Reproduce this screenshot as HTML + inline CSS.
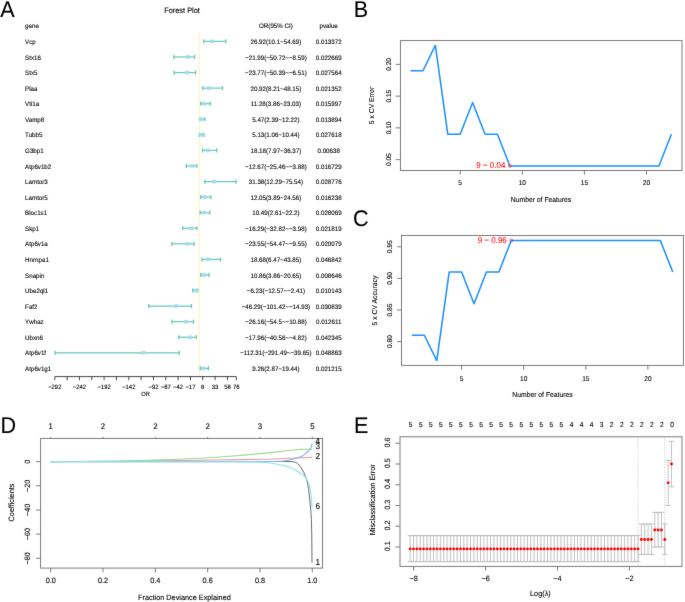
<!DOCTYPE html>
<html><head><meta charset="utf-8"><title>Figure</title>
<style>
html,body{margin:0;padding:0;background:#fff;}
body{width:685px;height:602px;overflow:hidden;}
svg{display:block;will-change:transform;}
text{font-family:"Liberation Sans", sans-serif;text-rendering:geometricPrecision;stroke:currentColor;stroke-width:0.1px;}
</style></head><body>
<svg width="685" height="602" viewBox="0 0 685 602">
<defs><filter id="bl" x="0" y="0" width="685" height="602" filterUnits="userSpaceOnUse" color-interpolation-filters="sRGB"><feConvolveMatrix order="3" kernelMatrix="0.00717 0.08466 0.00717 0.08466 1.00000 0.08466 0.00717 0.08466 0.00717" edgeMode="duplicate"/></filter></defs>
<g filter="url(#bl)">
<rect width="685" height="602" fill="#fff"/>
<text x="0.20" y="16.70" font-size="22.737" text-anchor="start" fill="#000" color="#000" transform="translate(0.20 16.70) scale(0.95 1) translate(-0.20 -16.70)">A</text>
<text x="353.70" y="16.90" font-size="22.737" text-anchor="start" fill="#000" color="#000" transform="translate(353.70 16.90) scale(0.95 1) translate(-353.70 -16.90)">B</text>
<text x="353.00" y="225.50" font-size="22.737" text-anchor="start" fill="#000" color="#000" transform="translate(353.00 225.50) scale(0.95 1) translate(-353.00 -225.50)">C</text>
<text x="0.40" y="433.30" font-size="22.737" text-anchor="start" fill="#000" color="#000" transform="translate(0.40 433.30) scale(0.95 1) translate(-0.40 -433.30)">D</text>
<text x="354.00" y="432.80" font-size="22.737" text-anchor="start" fill="#000" color="#000" transform="translate(354.00 432.80) scale(0.95 1) translate(-354.00 -432.80)">E</text>
<text x="164.20" y="12.80" font-size="7.789" text-anchor="start" fill="#000" color="#000" transform="translate(164.20 12.80) scale(0.95 1) translate(-164.20 -12.80)">Forest Plot</text>
<text x="25.10" y="28.23" font-size="6.526" text-anchor="start" fill="#000" color="#000" transform="translate(25.10 28.23) scale(0.95 1) translate(-25.10 -28.23)">gene</text>
<text x="275.90" y="28.03" font-size="6.526" text-anchor="middle" fill="#000" color="#000" transform="translate(275.90 28.03) scale(0.95 1) translate(-275.90 -28.03)">OR(95% CI)</text>
<text x="328.70" y="28.03" font-size="6.526" text-anchor="middle" fill="#000" color="#000" transform="translate(328.70 28.03) scale(0.95 1) translate(-328.70 -28.03)">pvalue</text>
<line x1="199.45" y1="33.30" x2="199.45" y2="376.60" stroke="#FFF4BA" stroke-width="1.2"/>
<text x="25.10" y="44.00" font-size="6.526" text-anchor="start" fill="#000" color="#000" transform="translate(25.10 44.00) scale(0.95 1) translate(-25.10 -44.00)">Vcp</text>
<text x="275.90" y="44.00" font-size="6.526" text-anchor="middle" fill="#000" color="#000" transform="translate(275.90 44.00) scale(0.95 1) translate(-275.90 -44.00)">26.92(10.1~54.69)</text>
<text x="328.70" y="44.00" font-size="6.526" text-anchor="middle" fill="#000" color="#000" transform="translate(328.70 44.00) scale(0.95 1) translate(-328.70 -44.00)">0.013372</text>
<line x1="203.80" y1="41.40" x2="225.79" y2="41.40" stroke="#69C7BA" stroke-width="1.2"/>
<line x1="203.80" y1="39.30" x2="203.80" y2="43.50" stroke="#69C7BA" stroke-width="1.3"/>
<line x1="225.79" y1="39.30" x2="225.79" y2="43.50" stroke="#69C7BA" stroke-width="1.3"/>
<rect x="210.09" y="39.60" width="4" height="3.6" fill="#A6DBF2"/>
<text x="25.10" y="59.57" font-size="6.526" text-anchor="start" fill="#000" color="#000" transform="translate(25.10 59.57) scale(0.95 1) translate(-25.10 -59.57)">Stx16</text>
<text x="275.90" y="59.57" font-size="6.526" text-anchor="middle" fill="#000" color="#000" transform="translate(275.90 59.57) scale(0.95 1) translate(-275.90 -59.57)">−21.99(−50.72~−8.59)</text>
<text x="328.70" y="59.57" font-size="6.526" text-anchor="middle" fill="#000" color="#000" transform="translate(328.70 59.57) scale(0.95 1) translate(-328.70 -59.57)">0.022669</text>
<line x1="173.80" y1="56.97" x2="194.58" y2="56.97" stroke="#69C7BA" stroke-width="1.2"/>
<line x1="173.80" y1="54.87" x2="173.80" y2="59.07" stroke="#69C7BA" stroke-width="1.3"/>
<line x1="194.58" y1="54.87" x2="194.58" y2="59.07" stroke="#69C7BA" stroke-width="1.3"/>
<rect x="185.97" y="55.17" width="4" height="3.6" fill="#A6DBF2"/>
<text x="25.10" y="75.14" font-size="6.526" text-anchor="start" fill="#000" color="#000" transform="translate(25.10 75.14) scale(0.95 1) translate(-25.10 -75.14)">Stx5</text>
<text x="275.90" y="75.14" font-size="6.526" text-anchor="middle" fill="#000" color="#000" transform="translate(275.90 75.14) scale(0.95 1) translate(-275.90 -75.14)">−23.77(−50.39~−6.51)</text>
<text x="328.70" y="75.14" font-size="6.526" text-anchor="middle" fill="#000" color="#000" transform="translate(328.70 75.14) scale(0.95 1) translate(-328.70 -75.14)">0.027564</text>
<line x1="173.96" y1="72.54" x2="195.61" y2="72.54" stroke="#69C7BA" stroke-width="1.2"/>
<line x1="173.96" y1="70.44" x2="173.96" y2="74.64" stroke="#69C7BA" stroke-width="1.3"/>
<line x1="195.61" y1="70.44" x2="195.61" y2="74.64" stroke="#69C7BA" stroke-width="1.3"/>
<rect x="185.09" y="70.74" width="4" height="3.6" fill="#A6DBF2"/>
<text x="25.10" y="90.71" font-size="6.526" text-anchor="start" fill="#000" color="#000" transform="translate(25.10 90.71) scale(0.95 1) translate(-25.10 -90.71)">Plaa</text>
<text x="275.90" y="90.71" font-size="6.526" text-anchor="middle" fill="#000" color="#000" transform="translate(275.90 90.71) scale(0.95 1) translate(-275.90 -90.71)">20.92(8.21~48.15)</text>
<text x="328.70" y="90.71" font-size="6.526" text-anchor="middle" fill="#000" color="#000" transform="translate(328.70 90.71) scale(0.95 1) translate(-328.70 -90.71)">0.021352</text>
<line x1="202.87" y1="88.11" x2="222.56" y2="88.11" stroke="#69C7BA" stroke-width="1.2"/>
<line x1="202.87" y1="86.01" x2="202.87" y2="90.21" stroke="#69C7BA" stroke-width="1.3"/>
<line x1="222.56" y1="86.01" x2="222.56" y2="90.21" stroke="#69C7BA" stroke-width="1.3"/>
<rect x="207.13" y="86.31" width="4" height="3.6" fill="#A6DBF2"/>
<text x="25.10" y="106.28" font-size="6.526" text-anchor="start" fill="#000" color="#000" transform="translate(25.10 106.28) scale(0.95 1) translate(-25.10 -106.28)">Vti1a</text>
<text x="275.90" y="106.28" font-size="6.526" text-anchor="middle" fill="#000" color="#000" transform="translate(275.90 106.28) scale(0.95 1) translate(-275.90 -106.28)">11.28(3.86~23.03)</text>
<text x="328.70" y="106.28" font-size="6.526" text-anchor="middle" fill="#000" color="#000" transform="translate(328.70 106.28) scale(0.95 1) translate(-328.70 -106.28)">0.015997</text>
<line x1="200.72" y1="103.68" x2="210.17" y2="103.68" stroke="#69C7BA" stroke-width="1.2"/>
<line x1="200.72" y1="101.58" x2="200.72" y2="105.78" stroke="#69C7BA" stroke-width="1.3"/>
<line x1="210.17" y1="101.58" x2="210.17" y2="105.78" stroke="#69C7BA" stroke-width="1.3"/>
<rect x="202.38" y="101.88" width="4" height="3.6" fill="#A6DBF2"/>
<text x="25.10" y="121.85" font-size="6.526" text-anchor="start" fill="#000" color="#000" transform="translate(25.10 121.85) scale(0.95 1) translate(-25.10 -121.85)">Vamp8</text>
<text x="275.90" y="121.85" font-size="6.526" text-anchor="middle" fill="#000" color="#000" transform="translate(275.90 121.85) scale(0.95 1) translate(-275.90 -121.85)">5.47(2.39~12.22)</text>
<text x="328.70" y="121.85" font-size="6.526" text-anchor="middle" fill="#000" color="#000" transform="translate(328.70 121.85) scale(0.95 1) translate(-328.70 -121.85)">0.013894</text>
<line x1="200.00" y1="119.25" x2="204.84" y2="119.25" stroke="#69C7BA" stroke-width="1.2"/>
<line x1="200.00" y1="117.15" x2="200.00" y2="121.35" stroke="#69C7BA" stroke-width="1.3"/>
<line x1="204.84" y1="117.15" x2="204.84" y2="121.35" stroke="#69C7BA" stroke-width="1.3"/>
<rect x="199.51" y="117.45" width="4" height="3.6" fill="#A6DBF2"/>
<text x="25.10" y="137.42" font-size="6.526" text-anchor="start" fill="#000" color="#000" transform="translate(25.10 137.42) scale(0.95 1) translate(-25.10 -137.42)">Tubb5</text>
<text x="275.90" y="137.42" font-size="6.526" text-anchor="middle" fill="#000" color="#000" transform="translate(275.90 137.42) scale(0.95 1) translate(-275.90 -137.42)">5.13(1.06~10.44)</text>
<text x="328.70" y="137.42" font-size="6.526" text-anchor="middle" fill="#000" color="#000" transform="translate(328.70 137.42) scale(0.95 1) translate(-328.70 -137.42)">0.027618</text>
<line x1="199.34" y1="134.82" x2="203.97" y2="134.82" stroke="#69C7BA" stroke-width="1.2"/>
<line x1="199.34" y1="132.72" x2="199.34" y2="136.92" stroke="#69C7BA" stroke-width="1.3"/>
<line x1="203.97" y1="132.72" x2="203.97" y2="136.92" stroke="#69C7BA" stroke-width="1.3"/>
<rect x="199.35" y="133.02" width="4" height="3.6" fill="#A6DBF2"/>
<text x="25.10" y="152.99" font-size="6.526" text-anchor="start" fill="#000" color="#000" transform="translate(25.10 152.99) scale(0.95 1) translate(-25.10 -152.99)">G3bp1</text>
<text x="275.90" y="152.99" font-size="6.526" text-anchor="middle" fill="#000" color="#000" transform="translate(275.90 152.99) scale(0.95 1) translate(-275.90 -152.99)">18.18(7.97~36.37)</text>
<text x="328.70" y="152.99" font-size="6.526" text-anchor="middle" fill="#000" color="#000" transform="translate(328.70 152.99) scale(0.95 1) translate(-328.70 -152.99)">0.00638</text>
<line x1="202.75" y1="150.39" x2="216.75" y2="150.39" stroke="#69C7BA" stroke-width="1.2"/>
<line x1="202.75" y1="148.29" x2="202.75" y2="152.49" stroke="#69C7BA" stroke-width="1.3"/>
<line x1="216.75" y1="148.29" x2="216.75" y2="152.49" stroke="#69C7BA" stroke-width="1.3"/>
<rect x="205.78" y="148.59" width="4" height="3.6" fill="#A6DBF2"/>
<text x="25.10" y="168.56" font-size="6.526" text-anchor="start" fill="#000" color="#000" transform="translate(25.10 168.56) scale(0.95 1) translate(-25.10 -168.56)">Atp6v1b2</text>
<text x="275.90" y="168.56" font-size="6.526" text-anchor="middle" fill="#000" color="#000" transform="translate(275.90 168.56) scale(0.95 1) translate(-275.90 -168.56)">−12.67(−25.46~−3.88)</text>
<text x="328.70" y="168.56" font-size="6.526" text-anchor="middle" fill="#000" color="#000" transform="translate(328.70 168.56) scale(0.95 1) translate(-328.70 -168.56)">0.016729</text>
<line x1="186.26" y1="165.96" x2="196.90" y2="165.96" stroke="#69C7BA" stroke-width="1.2"/>
<line x1="186.26" y1="163.86" x2="186.26" y2="168.06" stroke="#69C7BA" stroke-width="1.3"/>
<line x1="196.90" y1="163.86" x2="196.90" y2="168.06" stroke="#69C7BA" stroke-width="1.3"/>
<rect x="190.57" y="164.16" width="4" height="3.6" fill="#A6DBF2"/>
<text x="25.10" y="184.13" font-size="6.526" text-anchor="start" fill="#000" color="#000" transform="translate(25.10 184.13) scale(0.95 1) translate(-25.10 -184.13)">Lamtor3</text>
<text x="275.90" y="184.13" font-size="6.526" text-anchor="middle" fill="#000" color="#000" transform="translate(275.90 184.13) scale(0.95 1) translate(-275.90 -184.13)">31.38(12.29~75.54)</text>
<text x="328.70" y="184.13" font-size="6.526" text-anchor="middle" fill="#000" color="#000" transform="translate(328.70 184.13) scale(0.95 1) translate(-328.70 -184.13)">0.028776</text>
<line x1="204.88" y1="181.53" x2="236.07" y2="181.53" stroke="#69C7BA" stroke-width="1.2"/>
<line x1="204.88" y1="179.43" x2="204.88" y2="183.63" stroke="#69C7BA" stroke-width="1.3"/>
<line x1="236.07" y1="179.43" x2="236.07" y2="183.63" stroke="#69C7BA" stroke-width="1.3"/>
<rect x="212.29" y="179.73" width="4" height="3.6" fill="#A6DBF2"/>
<text x="25.10" y="199.70" font-size="6.526" text-anchor="start" fill="#000" color="#000" transform="translate(25.10 199.70) scale(0.95 1) translate(-25.10 -199.70)">Lamtor5</text>
<text x="275.90" y="199.70" font-size="6.526" text-anchor="middle" fill="#000" color="#000" transform="translate(275.90 199.70) scale(0.95 1) translate(-275.90 -199.70)">12.05(3.89~24.56)</text>
<text x="328.70" y="199.70" font-size="6.526" text-anchor="middle" fill="#000" color="#000" transform="translate(328.70 199.70) scale(0.95 1) translate(-328.70 -199.70)">0.016238</text>
<line x1="200.73" y1="197.10" x2="210.93" y2="197.10" stroke="#69C7BA" stroke-width="1.2"/>
<line x1="200.73" y1="195.00" x2="200.73" y2="199.20" stroke="#69C7BA" stroke-width="1.3"/>
<line x1="210.93" y1="195.00" x2="210.93" y2="199.20" stroke="#69C7BA" stroke-width="1.3"/>
<rect x="202.76" y="195.30" width="4" height="3.6" fill="#A6DBF2"/>
<text x="25.10" y="215.27" font-size="6.526" text-anchor="start" fill="#000" color="#000" transform="translate(25.10 215.27) scale(0.95 1) translate(-25.10 -215.27)">Bloc1s1</text>
<text x="275.90" y="215.27" font-size="6.526" text-anchor="middle" fill="#000" color="#000" transform="translate(275.90 215.27) scale(0.95 1) translate(-275.90 -215.27)">10.49(2.61~22.2)</text>
<text x="328.70" y="215.27" font-size="6.526" text-anchor="middle" fill="#000" color="#000" transform="translate(328.70 215.27) scale(0.95 1) translate(-328.70 -215.27)">0.028069</text>
<line x1="200.10" y1="212.67" x2="209.77" y2="212.67" stroke="#69C7BA" stroke-width="1.2"/>
<line x1="200.10" y1="210.57" x2="200.10" y2="214.77" stroke="#69C7BA" stroke-width="1.3"/>
<line x1="209.77" y1="210.57" x2="209.77" y2="214.77" stroke="#69C7BA" stroke-width="1.3"/>
<rect x="201.99" y="210.87" width="4" height="3.6" fill="#A6DBF2"/>
<text x="25.10" y="230.84" font-size="6.526" text-anchor="start" fill="#000" color="#000" transform="translate(25.10 230.84) scale(0.95 1) translate(-25.10 -230.84)">Skp1</text>
<text x="275.90" y="230.84" font-size="6.526" text-anchor="middle" fill="#000" color="#000" transform="translate(275.90 230.84) scale(0.95 1) translate(-275.90 -230.84)">−16.29(−32.82~−3.98)</text>
<text x="328.70" y="230.84" font-size="6.526" text-anchor="middle" fill="#000" color="#000" transform="translate(328.70 230.84) scale(0.95 1) translate(-328.70 -230.84)">0.021819</text>
<line x1="182.63" y1="228.24" x2="196.85" y2="228.24" stroke="#69C7BA" stroke-width="1.2"/>
<line x1="182.63" y1="226.14" x2="182.63" y2="230.34" stroke="#69C7BA" stroke-width="1.3"/>
<line x1="196.85" y1="226.14" x2="196.85" y2="230.34" stroke="#69C7BA" stroke-width="1.3"/>
<rect x="188.78" y="226.44" width="4" height="3.6" fill="#A6DBF2"/>
<text x="25.10" y="246.41" font-size="6.526" text-anchor="start" fill="#000" color="#000" transform="translate(25.10 246.41) scale(0.95 1) translate(-25.10 -246.41)">Atp6v1a</text>
<text x="275.90" y="246.41" font-size="6.526" text-anchor="middle" fill="#000" color="#000" transform="translate(275.90 246.41) scale(0.95 1) translate(-275.90 -246.41)">−23.55(−54.47~−9.55)</text>
<text x="328.70" y="246.41" font-size="6.526" text-anchor="middle" fill="#000" color="#000" transform="translate(328.70 246.41) scale(0.95 1) translate(-328.70 -246.41)">0.020079</text>
<line x1="171.95" y1="243.81" x2="194.11" y2="243.81" stroke="#69C7BA" stroke-width="1.2"/>
<line x1="171.95" y1="241.71" x2="171.95" y2="245.91" stroke="#69C7BA" stroke-width="1.3"/>
<line x1="194.11" y1="241.71" x2="194.11" y2="245.91" stroke="#69C7BA" stroke-width="1.3"/>
<rect x="185.20" y="242.01" width="4" height="3.6" fill="#A6DBF2"/>
<text x="25.10" y="261.98" font-size="6.526" text-anchor="start" fill="#000" color="#000" transform="translate(25.10 261.98) scale(0.95 1) translate(-25.10 -261.98)">Hnrnpa1</text>
<text x="275.90" y="261.98" font-size="6.526" text-anchor="middle" fill="#000" color="#000" transform="translate(275.90 261.98) scale(0.95 1) translate(-275.90 -261.98)">18.68(6.47~43.85)</text>
<text x="328.70" y="261.98" font-size="6.526" text-anchor="middle" fill="#000" color="#000" transform="translate(328.70 261.98) scale(0.95 1) translate(-328.70 -261.98)">0.046842</text>
<line x1="202.01" y1="259.38" x2="220.44" y2="259.38" stroke="#69C7BA" stroke-width="1.2"/>
<line x1="202.01" y1="257.28" x2="202.01" y2="261.48" stroke="#69C7BA" stroke-width="1.3"/>
<line x1="220.44" y1="257.28" x2="220.44" y2="261.48" stroke="#69C7BA" stroke-width="1.3"/>
<rect x="206.03" y="257.58" width="4" height="3.6" fill="#A6DBF2"/>
<text x="25.10" y="277.55" font-size="6.526" text-anchor="start" fill="#000" color="#000" transform="translate(25.10 277.55) scale(0.95 1) translate(-25.10 -277.55)">Snapin</text>
<text x="275.90" y="277.55" font-size="6.526" text-anchor="middle" fill="#000" color="#000" transform="translate(275.90 277.55) scale(0.95 1) translate(-275.90 -277.55)">10.86(3.86~20.65)</text>
<text x="328.70" y="277.55" font-size="6.526" text-anchor="middle" fill="#000" color="#000" transform="translate(328.70 277.55) scale(0.95 1) translate(-328.70 -277.55)">0.008646</text>
<line x1="200.72" y1="274.95" x2="209.00" y2="274.95" stroke="#69C7BA" stroke-width="1.2"/>
<line x1="200.72" y1="272.85" x2="200.72" y2="277.05" stroke="#69C7BA" stroke-width="1.3"/>
<line x1="209.00" y1="272.85" x2="209.00" y2="277.05" stroke="#69C7BA" stroke-width="1.3"/>
<rect x="202.17" y="273.15" width="4" height="3.6" fill="#A6DBF2"/>
<text x="25.10" y="293.12" font-size="6.526" text-anchor="start" fill="#000" color="#000" transform="translate(25.10 293.12) scale(0.95 1) translate(-25.10 -293.12)">Ube2ql1</text>
<text x="275.90" y="293.12" font-size="6.526" text-anchor="middle" fill="#000" color="#000" transform="translate(275.90 293.12) scale(0.95 1) translate(-275.90 -293.12)">−6.23(−12.57~−2.41)</text>
<text x="328.70" y="293.12" font-size="6.526" text-anchor="middle" fill="#000" color="#000" transform="translate(328.70 293.12) scale(0.95 1) translate(-328.70 -293.12)">0.010143</text>
<line x1="192.62" y1="290.52" x2="197.63" y2="290.52" stroke="#69C7BA" stroke-width="1.2"/>
<line x1="192.62" y1="288.42" x2="192.62" y2="292.62" stroke="#69C7BA" stroke-width="1.3"/>
<line x1="197.63" y1="288.42" x2="197.63" y2="292.62" stroke="#69C7BA" stroke-width="1.3"/>
<rect x="193.74" y="288.72" width="4" height="3.6" fill="#A6DBF2"/>
<text x="25.10" y="308.69" font-size="6.526" text-anchor="start" fill="#000" color="#000" transform="translate(25.10 308.69) scale(0.95 1) translate(-25.10 -308.69)">Faf2</text>
<text x="275.90" y="308.69" font-size="6.526" text-anchor="middle" fill="#000" color="#000" transform="translate(275.90 308.69) scale(0.95 1) translate(-275.90 -308.69)">−46.29(−101.42~−14.93)</text>
<text x="328.70" y="308.69" font-size="6.526" text-anchor="middle" fill="#000" color="#000" transform="translate(328.70 308.69) scale(0.95 1) translate(-328.70 -308.69)">0.030839</text>
<line x1="148.80" y1="306.09" x2="191.45" y2="306.09" stroke="#69C7BA" stroke-width="1.2"/>
<line x1="148.80" y1="303.99" x2="148.80" y2="308.19" stroke="#69C7BA" stroke-width="1.3"/>
<line x1="191.45" y1="303.99" x2="191.45" y2="308.19" stroke="#69C7BA" stroke-width="1.3"/>
<rect x="173.99" y="304.29" width="4" height="3.6" fill="#A6DBF2"/>
<text x="25.10" y="324.26" font-size="6.526" text-anchor="start" fill="#000" color="#000" transform="translate(25.10 324.26) scale(0.95 1) translate(-25.10 -324.26)">Ywhaz</text>
<text x="275.90" y="324.26" font-size="6.526" text-anchor="middle" fill="#000" color="#000" transform="translate(275.90 324.26) scale(0.95 1) translate(-275.90 -324.26)">−26.16(−54.5~−10.88)</text>
<text x="328.70" y="324.26" font-size="6.526" text-anchor="middle" fill="#000" color="#000" transform="translate(328.70 324.26) scale(0.95 1) translate(-328.70 -324.26)">0.012611</text>
<line x1="171.94" y1="321.66" x2="193.45" y2="321.66" stroke="#69C7BA" stroke-width="1.2"/>
<line x1="171.94" y1="319.56" x2="171.94" y2="323.76" stroke="#69C7BA" stroke-width="1.3"/>
<line x1="193.45" y1="319.56" x2="193.45" y2="323.76" stroke="#69C7BA" stroke-width="1.3"/>
<rect x="183.91" y="319.86" width="4" height="3.6" fill="#A6DBF2"/>
<text x="25.10" y="339.83" font-size="6.526" text-anchor="start" fill="#000" color="#000" transform="translate(25.10 339.83) scale(0.95 1) translate(-25.10 -339.83)">Ubxn6</text>
<text x="275.90" y="339.83" font-size="6.526" text-anchor="middle" fill="#000" color="#000" transform="translate(275.90 339.83) scale(0.95 1) translate(-275.90 -339.83)">−17.96(−40.56~−4.82)</text>
<text x="328.70" y="339.83" font-size="6.526" text-anchor="middle" fill="#000" color="#000" transform="translate(328.70 339.83) scale(0.95 1) translate(-328.70 -339.83)">0.042345</text>
<line x1="178.81" y1="337.23" x2="196.44" y2="337.23" stroke="#69C7BA" stroke-width="1.2"/>
<line x1="178.81" y1="335.13" x2="178.81" y2="339.33" stroke="#69C7BA" stroke-width="1.3"/>
<line x1="196.44" y1="335.13" x2="196.44" y2="339.33" stroke="#69C7BA" stroke-width="1.3"/>
<rect x="187.96" y="335.43" width="4" height="3.6" fill="#A6DBF2"/>
<text x="25.10" y="355.40" font-size="6.526" text-anchor="start" fill="#000" color="#000" transform="translate(25.10 355.40) scale(0.95 1) translate(-25.10 -355.40)">Atp6v1f</text>
<text x="275.90" y="355.40" font-size="6.526" text-anchor="middle" fill="#000" color="#000" transform="translate(275.90 355.40) scale(0.95 1) translate(-275.90 -355.40)">−112.31(−291.49~−39.65)</text>
<text x="328.70" y="355.40" font-size="6.526" text-anchor="middle" fill="#000" color="#000" transform="translate(328.70 355.40) scale(0.95 1) translate(-328.70 -355.40)">0.048863</text>
<line x1="55.05" y1="352.80" x2="179.26" y2="352.80" stroke="#69C7BA" stroke-width="1.2"/>
<line x1="55.05" y1="350.70" x2="55.05" y2="354.90" stroke="#69C7BA" stroke-width="1.3"/>
<line x1="179.26" y1="350.70" x2="179.26" y2="354.90" stroke="#69C7BA" stroke-width="1.3"/>
<rect x="141.42" y="351.00" width="4" height="3.6" fill="#A6DBF2"/>
<text x="25.10" y="370.97" font-size="6.526" text-anchor="start" fill="#000" color="#000" transform="translate(25.10 370.97) scale(0.95 1) translate(-25.10 -370.97)">Atp6v1g1</text>
<text x="275.90" y="370.97" font-size="6.526" text-anchor="middle" fill="#000" color="#000" transform="translate(275.90 370.97) scale(0.95 1) translate(-275.90 -370.97)">9.26(2.87~19.44)</text>
<text x="328.70" y="370.97" font-size="6.526" text-anchor="middle" fill="#000" color="#000" transform="translate(328.70 370.97) scale(0.95 1) translate(-328.70 -370.97)">0.021215</text>
<line x1="200.23" y1="368.37" x2="208.40" y2="368.37" stroke="#69C7BA" stroke-width="1.2"/>
<line x1="200.23" y1="366.27" x2="200.23" y2="370.47" stroke="#69C7BA" stroke-width="1.3"/>
<line x1="208.40" y1="366.27" x2="208.40" y2="370.47" stroke="#69C7BA" stroke-width="1.3"/>
<rect x="201.38" y="366.57" width="4" height="3.6" fill="#A6DBF2"/>
<line x1="54.80" y1="376.60" x2="236.30" y2="376.60" stroke="#333" stroke-width="0.9"/>
<line x1="54.80" y1="376.60" x2="54.80" y2="380.20" stroke="#333" stroke-width="0.9"/>
<text x="54.80" y="388.80" font-size="6.211" text-anchor="middle" fill="#000" color="#000" transform="translate(54.80 388.80) scale(0.95 1) translate(-54.80 -388.80)">−292</text>
<line x1="67.13" y1="376.60" x2="67.13" y2="380.20" stroke="#333" stroke-width="0.9"/>
<line x1="79.46" y1="376.60" x2="79.46" y2="380.20" stroke="#333" stroke-width="0.9"/>
<text x="79.46" y="388.80" font-size="6.211" text-anchor="middle" fill="#000" color="#000" transform="translate(79.46 388.80) scale(0.95 1) translate(-79.46 -388.80)">−242</text>
<line x1="91.79" y1="376.60" x2="91.79" y2="380.20" stroke="#333" stroke-width="0.9"/>
<line x1="104.12" y1="376.60" x2="104.12" y2="380.20" stroke="#333" stroke-width="0.9"/>
<text x="104.12" y="388.80" font-size="6.211" text-anchor="middle" fill="#000" color="#000" transform="translate(104.12 388.80) scale(0.95 1) translate(-104.12 -388.80)">−192</text>
<line x1="116.45" y1="376.60" x2="116.45" y2="380.20" stroke="#333" stroke-width="0.9"/>
<line x1="128.78" y1="376.60" x2="128.78" y2="380.20" stroke="#333" stroke-width="0.9"/>
<text x="128.78" y="388.80" font-size="6.211" text-anchor="middle" fill="#000" color="#000" transform="translate(128.78 388.80) scale(0.95 1) translate(-128.78 -388.80)">−142</text>
<line x1="141.11" y1="376.60" x2="141.11" y2="380.20" stroke="#333" stroke-width="0.9"/>
<line x1="153.44" y1="376.60" x2="153.44" y2="380.20" stroke="#333" stroke-width="0.9"/>
<text x="153.44" y="388.80" font-size="6.211" text-anchor="middle" fill="#000" color="#000" transform="translate(153.44 388.80) scale(0.95 1) translate(-153.44 -388.80)">−92</text>
<line x1="165.77" y1="376.60" x2="165.77" y2="380.20" stroke="#333" stroke-width="0.9"/>
<text x="165.77" y="388.80" font-size="6.211" text-anchor="middle" fill="#000" color="#000" transform="translate(165.77 388.80) scale(0.95 1) translate(-165.77 -388.80)">−67</text>
<line x1="178.10" y1="376.60" x2="178.10" y2="380.20" stroke="#333" stroke-width="0.9"/>
<text x="178.10" y="388.80" font-size="6.211" text-anchor="middle" fill="#000" color="#000" transform="translate(178.10 388.80) scale(0.95 1) translate(-178.10 -388.80)">−42</text>
<line x1="190.43" y1="376.60" x2="190.43" y2="380.20" stroke="#333" stroke-width="0.9"/>
<text x="190.43" y="388.80" font-size="6.211" text-anchor="middle" fill="#000" color="#000" transform="translate(190.43 388.80) scale(0.95 1) translate(-190.43 -388.80)">−17</text>
<line x1="202.76" y1="376.60" x2="202.76" y2="380.20" stroke="#333" stroke-width="0.9"/>
<text x="202.76" y="388.80" font-size="6.211" text-anchor="middle" fill="#000" color="#000" transform="translate(202.76 388.80) scale(0.95 1) translate(-202.76 -388.80)">8</text>
<line x1="215.09" y1="376.60" x2="215.09" y2="380.20" stroke="#333" stroke-width="0.9"/>
<text x="215.09" y="388.80" font-size="6.211" text-anchor="middle" fill="#000" color="#000" transform="translate(215.09 388.80) scale(0.95 1) translate(-215.09 -388.80)">33</text>
<line x1="227.42" y1="376.60" x2="227.42" y2="380.20" stroke="#333" stroke-width="0.9"/>
<text x="227.42" y="388.80" font-size="6.211" text-anchor="middle" fill="#000" color="#000" transform="translate(227.42 388.80) scale(0.95 1) translate(-227.42 -388.80)">58</text>
<line x1="236.30" y1="376.60" x2="236.30" y2="380.20" stroke="#333" stroke-width="0.9"/>
<text x="236.30" y="388.80" font-size="6.211" text-anchor="middle" fill="#000" color="#000" transform="translate(236.30 388.80) scale(0.95 1) translate(-236.30 -388.80)">76</text>
<text x="145.60" y="395.50" font-size="6.0" text-anchor="middle" fill="#000" color="#000" transform="translate(145.60 395.50) scale(0.95 1) translate(-145.60 -395.50)">OR</text>
<rect x="400.40" y="40.60" width="281.60" height="129.90" fill="none" stroke="#6E6E6E" stroke-width="0.9"/>
<polyline points="410.52,70.75 422.94,70.75 435.36,45.36 447.78,134.22 460.20,134.22 472.62,102.48 485.04,134.22 497.46,134.22 509.88,165.95 522.30,165.95 534.72,165.95 547.14,165.95 559.56,165.95 571.98,165.95 584.40,165.95 596.82,165.95 609.24,165.95 621.66,165.95 634.08,165.95 646.50,165.95 658.92,165.95 671.34,134.22" fill="none" stroke="#1E90FF" stroke-width="1.55" stroke-linejoin="round"/>
<line x1="395.60" y1="159.61" x2="400.40" y2="159.61" stroke="#6E6E6E" stroke-width="0.9"/>
<text x="390.60" y="159.61" font-size="6.947" text-anchor="middle" fill="#000" color="#000" transform="rotate(-90 390.60 159.61) translate(390.60 159.61) scale(0.95 1) translate(-390.60 -159.61)">0.05</text>
<line x1="395.60" y1="127.87" x2="400.40" y2="127.87" stroke="#6E6E6E" stroke-width="0.9"/>
<text x="390.60" y="127.87" font-size="6.947" text-anchor="middle" fill="#000" color="#000" transform="rotate(-90 390.60 127.87) translate(390.60 127.87) scale(0.95 1) translate(-390.60 -127.87)">0.10</text>
<line x1="395.60" y1="96.14" x2="400.40" y2="96.14" stroke="#6E6E6E" stroke-width="0.9"/>
<text x="390.60" y="96.14" font-size="6.947" text-anchor="middle" fill="#000" color="#000" transform="rotate(-90 390.60 96.14) translate(390.60 96.14) scale(0.95 1) translate(-390.60 -96.14)">0.15</text>
<line x1="395.60" y1="64.40" x2="400.40" y2="64.40" stroke="#6E6E6E" stroke-width="0.9"/>
<text x="390.60" y="64.40" font-size="6.947" text-anchor="middle" fill="#000" color="#000" transform="rotate(-90 390.60 64.40) translate(390.60 64.40) scale(0.95 1) translate(-390.60 -64.40)">0.20</text>
<line x1="460.20" y1="170.50" x2="460.20" y2="174.70" stroke="#6E6E6E" stroke-width="0.9"/>
<text x="460.20" y="185.00" font-size="6.947" text-anchor="middle" fill="#000" color="#000" transform="translate(460.20 185.00) scale(0.95 1) translate(-460.20 -185.00)">5</text>
<line x1="522.30" y1="170.50" x2="522.30" y2="174.70" stroke="#6E6E6E" stroke-width="0.9"/>
<text x="522.30" y="185.00" font-size="6.947" text-anchor="middle" fill="#000" color="#000" transform="translate(522.30 185.00) scale(0.95 1) translate(-522.30 -185.00)">10</text>
<line x1="584.40" y1="170.50" x2="584.40" y2="174.70" stroke="#6E6E6E" stroke-width="0.9"/>
<text x="584.40" y="185.00" font-size="6.947" text-anchor="middle" fill="#000" color="#000" transform="translate(584.40 185.00) scale(0.95 1) translate(-584.40 -185.00)">15</text>
<line x1="646.50" y1="170.50" x2="646.50" y2="174.70" stroke="#6E6E6E" stroke-width="0.9"/>
<text x="646.50" y="185.00" font-size="6.947" text-anchor="middle" fill="#000" color="#000" transform="translate(646.50 185.00) scale(0.95 1) translate(-646.50 -185.00)">20</text>
<text x="541.00" y="201.90" font-size="7.158" text-anchor="middle" fill="#000" color="#000" transform="translate(541.00 201.90) scale(0.95 1) translate(-541.00 -201.90)">Number of Features</text>
<text x="374.30" y="105.50" font-size="7.158" text-anchor="middle" fill="#000" color="#000" transform="rotate(-90 374.30 105.50) translate(374.30 105.50) scale(0.95 1) translate(-374.30 -105.50)">5 x CV Error</text>
<text x="505.40" y="167.70" font-size="8.421" text-anchor="end" fill="#FF1010" color="#FF1010" transform="translate(505.40 167.70) scale(0.95 1) translate(-505.40 -167.70)">9 − 0.04</text>
<circle cx="509.88" cy="165.95" r="1.5" fill="none" stroke="#FF1010" stroke-width="0.6"/>
<rect x="401.50" y="235.50" width="281.90" height="129.90" fill="none" stroke="#6E6E6E" stroke-width="0.9"/>
<polyline points="411.92,335.28 424.34,335.28 436.76,360.56 449.18,272.08 461.60,272.08 474.02,303.68 486.44,272.08 498.86,272.08 511.28,240.48 523.70,240.48 536.12,240.48 548.54,240.48 560.96,240.48 573.38,240.48 585.80,240.48 598.22,240.48 610.64,240.48 623.06,240.48 635.48,240.48 647.90,240.48 660.32,240.48 672.74,272.08" fill="none" stroke="#1E90FF" stroke-width="1.55" stroke-linejoin="round"/>
<line x1="397.10" y1="341.60" x2="401.50" y2="341.60" stroke="#6E6E6E" stroke-width="0.9"/>
<text x="392.20" y="341.60" font-size="6.947" text-anchor="middle" fill="#000" color="#000" transform="rotate(-90 392.20 341.60) translate(392.20 341.60) scale(0.95 1) translate(-392.20 -341.60)">0.80</text>
<line x1="397.10" y1="310.00" x2="401.50" y2="310.00" stroke="#6E6E6E" stroke-width="0.9"/>
<text x="392.20" y="310.00" font-size="6.947" text-anchor="middle" fill="#000" color="#000" transform="rotate(-90 392.20 310.00) translate(392.20 310.00) scale(0.95 1) translate(-392.20 -310.00)">0.85</text>
<line x1="397.10" y1="278.40" x2="401.50" y2="278.40" stroke="#6E6E6E" stroke-width="0.9"/>
<text x="392.20" y="278.40" font-size="6.947" text-anchor="middle" fill="#000" color="#000" transform="rotate(-90 392.20 278.40) translate(392.20 278.40) scale(0.95 1) translate(-392.20 -278.40)">0.90</text>
<line x1="397.10" y1="246.80" x2="401.50" y2="246.80" stroke="#6E6E6E" stroke-width="0.9"/>
<text x="392.20" y="246.80" font-size="6.947" text-anchor="middle" fill="#000" color="#000" transform="rotate(-90 392.20 246.80) translate(392.20 246.80) scale(0.95 1) translate(-392.20 -246.80)">0.95</text>
<line x1="461.60" y1="365.40" x2="461.60" y2="369.60" stroke="#6E6E6E" stroke-width="0.9"/>
<text x="461.60" y="380.60" font-size="6.947" text-anchor="middle" fill="#000" color="#000" transform="translate(461.60 380.60) scale(0.95 1) translate(-461.60 -380.60)">5</text>
<line x1="523.70" y1="365.40" x2="523.70" y2="369.60" stroke="#6E6E6E" stroke-width="0.9"/>
<text x="523.70" y="380.60" font-size="6.947" text-anchor="middle" fill="#000" color="#000" transform="translate(523.70 380.60) scale(0.95 1) translate(-523.70 -380.60)">10</text>
<line x1="585.80" y1="365.40" x2="585.80" y2="369.60" stroke="#6E6E6E" stroke-width="0.9"/>
<text x="585.80" y="380.60" font-size="6.947" text-anchor="middle" fill="#000" color="#000" transform="translate(585.80 380.60) scale(0.95 1) translate(-585.80 -380.60)">15</text>
<line x1="647.90" y1="365.40" x2="647.90" y2="369.60" stroke="#6E6E6E" stroke-width="0.9"/>
<text x="647.90" y="380.60" font-size="6.947" text-anchor="middle" fill="#000" color="#000" transform="translate(647.90 380.60) scale(0.95 1) translate(-647.90 -380.60)">20</text>
<text x="542.50" y="396.80" font-size="7.158" text-anchor="middle" fill="#000" color="#000" transform="translate(542.50 396.80) scale(0.95 1) translate(-542.50 -396.80)">Number of Features</text>
<text x="376.70" y="300.50" font-size="7.158" text-anchor="middle" fill="#000" color="#000" transform="rotate(-90 376.70 300.50) translate(376.70 300.50) scale(0.95 1) translate(-376.70 -300.50)">5 x CV Accuracy</text>
<text x="506.80" y="243.00" font-size="8.421" text-anchor="end" fill="#FF1010" color="#FF1010" transform="translate(506.80 243.00) scale(0.95 1) translate(-506.80 -243.00)">9 − 0.96</text>
<circle cx="511.28" cy="240.48" r="1.5" fill="none" stroke="#FF1010" stroke-width="0.6"/>
<rect x="40.60" y="438.40" width="282.00" height="129.70" fill="none" stroke="#6E6E6E" stroke-width="0.9"/>
<line x1="36.00" y1="461.70" x2="40.60" y2="461.70" stroke="#6E6E6E" stroke-width="0.9"/>
<text x="30.40" y="461.70" font-size="7.684" text-anchor="middle" fill="#000" color="#000" transform="rotate(-90 30.40 461.70) translate(30.40 461.70) scale(0.95 1) translate(-30.40 -461.70)">0</text>
<line x1="36.00" y1="485.85" x2="40.60" y2="485.85" stroke="#6E6E6E" stroke-width="0.9"/>
<text x="30.40" y="485.85" font-size="7.684" text-anchor="middle" fill="#000" color="#000" transform="rotate(-90 30.40 485.85) translate(30.40 485.85) scale(0.95 1) translate(-30.40 -485.85)">−20</text>
<line x1="36.00" y1="510.00" x2="40.60" y2="510.00" stroke="#6E6E6E" stroke-width="0.9"/>
<text x="30.40" y="510.00" font-size="7.684" text-anchor="middle" fill="#000" color="#000" transform="rotate(-90 30.40 510.00) translate(30.40 510.00) scale(0.95 1) translate(-30.40 -510.00)">−40</text>
<line x1="36.00" y1="534.15" x2="40.60" y2="534.15" stroke="#6E6E6E" stroke-width="0.9"/>
<text x="30.40" y="534.15" font-size="7.684" text-anchor="middle" fill="#000" color="#000" transform="rotate(-90 30.40 534.15) translate(30.40 534.15) scale(0.95 1) translate(-30.40 -534.15)">−60</text>
<line x1="36.00" y1="558.30" x2="40.60" y2="558.30" stroke="#6E6E6E" stroke-width="0.9"/>
<text x="30.40" y="558.30" font-size="7.684" text-anchor="middle" fill="#000" color="#000" transform="rotate(-90 30.40 558.30) translate(30.40 558.30) scale(0.95 1) translate(-30.40 -558.30)">−80</text>
<line x1="50.70" y1="568.10" x2="50.70" y2="572.30" stroke="#6E6E6E" stroke-width="0.9"/>
<text x="50.70" y="583.30" font-size="7.684" text-anchor="middle" fill="#000" color="#000" transform="translate(50.70 583.30) scale(0.95 1) translate(-50.70 -583.30)">0.0</text>
<line x1="50.70" y1="438.40" x2="50.70" y2="436.90" stroke="#6E6E6E" stroke-width="0.9"/>
<text x="50.70" y="428.80" font-size="8.211" text-anchor="middle" fill="#000" color="#000" transform="translate(50.70 428.80) scale(0.95 1) translate(-50.70 -428.80)">1</text>
<line x1="103.02" y1="568.10" x2="103.02" y2="572.30" stroke="#6E6E6E" stroke-width="0.9"/>
<text x="103.02" y="583.30" font-size="7.684" text-anchor="middle" fill="#000" color="#000" transform="translate(103.02 583.30) scale(0.95 1) translate(-103.02 -583.30)">0.2</text>
<line x1="103.02" y1="438.40" x2="103.02" y2="436.90" stroke="#6E6E6E" stroke-width="0.9"/>
<text x="103.02" y="428.80" font-size="8.211" text-anchor="middle" fill="#000" color="#000" transform="translate(103.02 428.80) scale(0.95 1) translate(-103.02 -428.80)">2</text>
<line x1="155.34" y1="568.10" x2="155.34" y2="572.30" stroke="#6E6E6E" stroke-width="0.9"/>
<text x="155.34" y="583.30" font-size="7.684" text-anchor="middle" fill="#000" color="#000" transform="translate(155.34 583.30) scale(0.95 1) translate(-155.34 -583.30)">0.4</text>
<line x1="155.34" y1="438.40" x2="155.34" y2="436.90" stroke="#6E6E6E" stroke-width="0.9"/>
<text x="155.34" y="428.80" font-size="8.211" text-anchor="middle" fill="#000" color="#000" transform="translate(155.34 428.80) scale(0.95 1) translate(-155.34 -428.80)">2</text>
<line x1="207.66" y1="568.10" x2="207.66" y2="572.30" stroke="#6E6E6E" stroke-width="0.9"/>
<text x="207.66" y="583.30" font-size="7.684" text-anchor="middle" fill="#000" color="#000" transform="translate(207.66 583.30) scale(0.95 1) translate(-207.66 -583.30)">0.6</text>
<line x1="207.66" y1="438.40" x2="207.66" y2="436.90" stroke="#6E6E6E" stroke-width="0.9"/>
<text x="207.66" y="428.80" font-size="8.211" text-anchor="middle" fill="#000" color="#000" transform="translate(207.66 428.80) scale(0.95 1) translate(-207.66 -428.80)">2</text>
<line x1="259.98" y1="568.10" x2="259.98" y2="572.30" stroke="#6E6E6E" stroke-width="0.9"/>
<text x="259.98" y="583.30" font-size="7.684" text-anchor="middle" fill="#000" color="#000" transform="translate(259.98 583.30) scale(0.95 1) translate(-259.98 -583.30)">0.8</text>
<line x1="259.98" y1="438.40" x2="259.98" y2="436.90" stroke="#6E6E6E" stroke-width="0.9"/>
<text x="259.98" y="428.80" font-size="8.211" text-anchor="middle" fill="#000" color="#000" transform="translate(259.98 428.80) scale(0.95 1) translate(-259.98 -428.80)">3</text>
<line x1="312.30" y1="568.10" x2="312.30" y2="572.30" stroke="#6E6E6E" stroke-width="0.9"/>
<text x="312.30" y="583.30" font-size="7.684" text-anchor="middle" fill="#000" color="#000" transform="translate(312.30 583.30) scale(0.95 1) translate(-312.30 -583.30)">1.0</text>
<line x1="312.30" y1="438.40" x2="312.30" y2="436.90" stroke="#6E6E6E" stroke-width="0.9"/>
<text x="312.30" y="428.80" font-size="8.211" text-anchor="middle" fill="#000" color="#000" transform="translate(312.30 428.80) scale(0.95 1) translate(-312.30 -428.80)">5</text>
<text x="184.40" y="599.80" font-size="7.684" text-anchor="middle" fill="#000" color="#000" transform="translate(184.40 599.80) scale(0.95 1) translate(-184.40 -599.80)">Fraction Deviance Explained</text>
<text x="14.30" y="502.60" font-size="7.684" text-anchor="middle" fill="#000" color="#000" transform="rotate(-90 14.30 502.60) translate(14.30 502.60) scale(0.95 1) translate(-14.30 -502.60)">Coefficients</text>
<path d="M50.70,461.60 C129.80,461.57 208.90,461.50 288.00,461.50 C289.33,461.50 290.68,461.46 292.00,461.60 C293.18,461.73 294.38,461.93 295.50,462.30 C296.22,462.53 296.92,462.92 297.50,463.40 C298.42,464.16 299.28,465.05 300.00,466.00 C301.04,467.38 301.99,468.87 302.80,470.40 C303.66,472.03 304.35,473.77 305.00,475.50 C305.85,477.74 306.68,479.99 307.30,482.30 C307.85,484.33 308.19,486.42 308.50,488.50 C308.93,491.42 309.18,494.36 309.50,497.30 C309.85,500.53 310.23,503.76 310.50,507.00 C310.86,511.23 311.23,515.46 311.40,519.70 C311.67,526.46 311.71,533.23 311.80,540.00 C311.91,547.60 311.93,555.20 312.00,562.80" fill="none" stroke="#5A5A5A" stroke-width="0.9" stroke-opacity="1" stroke-linejoin="round"/>
<path d="M50.70,461.60 C73.80,461.47 96.90,461.40 120.00,461.20 C146.67,460.97 173.33,460.66 200.00,460.30 C220.00,460.03 240.00,459.70 260.00,459.30 C266.67,459.17 273.33,458.94 280.00,458.70 C290.73,458.31 301.47,457.83 312.20,457.40" fill="none" stroke="#EE9AA8" stroke-width="1.1" stroke-opacity="1" stroke-linejoin="round"/>
<path d="M50.70,461.60 C73.80,461.40 96.90,461.36 120.00,461.00 C133.34,460.79 146.67,460.35 160.00,459.90 C173.34,459.45 186.68,459.00 200.00,458.30 C210.01,457.77 220.01,456.98 230.00,456.20 C240.01,455.42 250.00,454.52 260.00,453.60 C266.67,452.99 273.34,452.33 280.00,451.60 C284.87,451.06 289.72,450.29 294.60,449.80 C297.06,449.55 299.53,449.47 302.00,449.40 C305.40,449.30 308.80,449.33 312.20,449.30" fill="none" stroke="#9CDB8E" stroke-width="1.1" stroke-opacity="1" stroke-linejoin="round"/>
<path d="M50.70,461.60 C123.13,461.60 195.57,461.69 268.00,461.60 C271.83,461.59 275.67,461.50 279.50,461.30 C281.34,461.20 283.18,460.98 285.00,460.70 C287.08,460.38 289.15,459.98 291.20,459.50 C293.15,459.04 295.08,458.49 297.00,457.90 C298.68,457.39 300.46,457.01 302.00,456.20 C303.56,455.38 304.92,454.13 306.30,453.00 C307.25,452.23 308.15,451.38 309.00,450.50 C309.51,449.98 310.05,449.43 310.40,448.80 C310.88,447.93 311.19,446.95 311.50,446.00 C311.79,445.09 311.97,444.13 312.20,443.20" fill="none" stroke="#7DB8F0" stroke-width="1.1" stroke-opacity="1" stroke-linejoin="round"/>
<path d="M50.70,461.60 C100.47,461.67 150.23,461.73 200.00,461.80 C216.67,461.83 233.33,461.79 250.00,461.90 C254.00,461.93 258.01,461.95 262.00,462.20 C265.34,462.41 268.68,462.82 272.00,463.30 C274.68,463.69 277.34,464.27 280.00,464.80 C281.67,465.13 283.35,465.46 285.00,465.90 C286.69,466.36 288.36,466.89 290.00,467.50 C291.56,468.09 293.13,468.71 294.60,469.50 C295.80,470.15 296.87,471.03 298.00,471.80 C299.33,472.70 300.73,473.52 302.00,474.50 C303.33,475.52 304.76,476.52 305.80,477.80 C306.92,479.18 307.87,480.82 308.50,482.50 C309.37,484.82 309.84,487.34 310.30,489.80 C310.81,492.51 311.11,495.26 311.40,498.00 C311.74,501.23 311.93,504.47 312.20,507.70" fill="none" stroke="#8EE5EA" stroke-width="1.1" stroke-opacity="1" stroke-linejoin="round"/>
<text x="315.60" y="443.75" font-size="8.632" text-anchor="start" fill="#000" color="#000" transform="translate(315.60 443.75) scale(0.95 1) translate(-315.60 -443.75)">4</text>
<text x="315.60" y="449.05" font-size="8.632" text-anchor="start" fill="#000" color="#000" transform="translate(315.60 449.05) scale(0.95 1) translate(-315.60 -449.05)">3</text>
<text x="315.60" y="459.05" font-size="8.632" text-anchor="start" fill="#000" color="#000" transform="translate(315.60 459.05) scale(0.95 1) translate(-315.60 -459.05)">2</text>
<text x="315.60" y="509.15" font-size="8.632" text-anchor="start" fill="#000" color="#000" transform="translate(315.60 509.15) scale(0.95 1) translate(-315.60 -509.15)">6</text>
<text x="315.60" y="564.65" font-size="8.632" text-anchor="start" fill="#000" color="#000" transform="translate(315.60 564.65) scale(0.95 1) translate(-315.60 -564.65)">1</text>
<rect x="400.00" y="436.80" width="282.00" height="129.60" fill="none" stroke="#6E6E6E" stroke-width="0.9"/>
<line x1="395.40" y1="547.00" x2="400.00" y2="547.00" stroke="#6E6E6E" stroke-width="0.9"/>
<text x="390.40" y="546.30" font-size="7.684" text-anchor="middle" fill="#000" color="#000" transform="rotate(-90 390.40 546.30) translate(390.40 546.30) scale(0.95 1) translate(-390.40 -546.30)">0.1</text>
<line x1="395.40" y1="526.25" x2="400.00" y2="526.25" stroke="#6E6E6E" stroke-width="0.9"/>
<text x="390.40" y="525.55" font-size="7.684" text-anchor="middle" fill="#000" color="#000" transform="rotate(-90 390.40 525.55) translate(390.40 525.55) scale(0.95 1) translate(-390.40 -525.55)">0.2</text>
<line x1="395.40" y1="505.50" x2="400.00" y2="505.50" stroke="#6E6E6E" stroke-width="0.9"/>
<text x="390.40" y="504.80" font-size="7.684" text-anchor="middle" fill="#000" color="#000" transform="rotate(-90 390.40 504.80) translate(390.40 504.80) scale(0.95 1) translate(-390.40 -504.80)">0.3</text>
<line x1="395.40" y1="484.75" x2="400.00" y2="484.75" stroke="#6E6E6E" stroke-width="0.9"/>
<text x="390.40" y="484.05" font-size="7.684" text-anchor="middle" fill="#000" color="#000" transform="rotate(-90 390.40 484.05) translate(390.40 484.05) scale(0.95 1) translate(-390.40 -484.05)">0.4</text>
<line x1="395.40" y1="464.00" x2="400.00" y2="464.00" stroke="#6E6E6E" stroke-width="0.9"/>
<text x="390.40" y="463.30" font-size="7.684" text-anchor="middle" fill="#000" color="#000" transform="rotate(-90 390.40 463.30) translate(390.40 463.30) scale(0.95 1) translate(-390.40 -463.30)">0.5</text>
<line x1="395.40" y1="443.25" x2="400.00" y2="443.25" stroke="#6E6E6E" stroke-width="0.9"/>
<text x="390.40" y="442.55" font-size="7.684" text-anchor="middle" fill="#000" color="#000" transform="rotate(-90 390.40 442.55) translate(390.40 442.55) scale(0.95 1) translate(-390.40 -442.55)">0.6</text>
<line x1="413.70" y1="566.40" x2="413.70" y2="570.60" stroke="#6E6E6E" stroke-width="0.9"/>
<text x="413.70" y="580.80" font-size="7.684" text-anchor="middle" fill="#000" color="#000" transform="translate(413.70 580.80) scale(0.95 1) translate(-413.70 -580.80)">−8</text>
<line x1="485.60" y1="566.40" x2="485.60" y2="570.60" stroke="#6E6E6E" stroke-width="0.9"/>
<text x="485.60" y="580.80" font-size="7.684" text-anchor="middle" fill="#000" color="#000" transform="translate(485.60 580.80) scale(0.95 1) translate(-485.60 -580.80)">−6</text>
<line x1="557.50" y1="566.40" x2="557.50" y2="570.60" stroke="#6E6E6E" stroke-width="0.9"/>
<text x="557.50" y="580.80" font-size="7.684" text-anchor="middle" fill="#000" color="#000" transform="translate(557.50 580.80) scale(0.95 1) translate(-557.50 -580.80)">−4</text>
<line x1="629.40" y1="566.40" x2="629.40" y2="570.60" stroke="#6E6E6E" stroke-width="0.9"/>
<text x="629.40" y="580.80" font-size="7.684" text-anchor="middle" fill="#000" color="#000" transform="translate(629.40 580.80) scale(0.95 1) translate(-629.40 -580.80)">−2</text>
<text x="540.40" y="595.80" font-size="7.684" text-anchor="middle" fill="#000" color="#000" transform="translate(540.40 595.80) scale(0.95 1) translate(-540.40 -595.80)">Log(λ)</text>
<text x="374.70" y="499.80" font-size="7.684" text-anchor="middle" fill="#000" color="#000" transform="rotate(-90 374.70 499.80) translate(374.70 499.80) scale(0.95 1) translate(-374.70 -499.80)">Misclassification Error</text>
<line x1="410.20" y1="535.59" x2="410.20" y2="561.61" stroke="#B2B2B2" stroke-width="0.8"/>
<line x1="407.60" y1="535.59" x2="412.80" y2="535.59" stroke="#B2B2B2" stroke-width="0.8"/>
<line x1="407.60" y1="561.61" x2="412.80" y2="561.61" stroke="#B2B2B2" stroke-width="0.8"/>
<line x1="413.55" y1="535.59" x2="413.55" y2="561.61" stroke="#B2B2B2" stroke-width="0.8"/>
<line x1="410.95" y1="535.59" x2="416.15" y2="535.59" stroke="#B2B2B2" stroke-width="0.8"/>
<line x1="410.95" y1="561.61" x2="416.15" y2="561.61" stroke="#B2B2B2" stroke-width="0.8"/>
<line x1="416.90" y1="535.59" x2="416.90" y2="561.61" stroke="#B2B2B2" stroke-width="0.8"/>
<line x1="414.30" y1="535.59" x2="419.50" y2="535.59" stroke="#B2B2B2" stroke-width="0.8"/>
<line x1="414.30" y1="561.61" x2="419.50" y2="561.61" stroke="#B2B2B2" stroke-width="0.8"/>
<line x1="420.25" y1="535.59" x2="420.25" y2="561.61" stroke="#B2B2B2" stroke-width="0.8"/>
<line x1="417.65" y1="535.59" x2="422.85" y2="535.59" stroke="#B2B2B2" stroke-width="0.8"/>
<line x1="417.65" y1="561.61" x2="422.85" y2="561.61" stroke="#B2B2B2" stroke-width="0.8"/>
<line x1="423.60" y1="535.59" x2="423.60" y2="561.61" stroke="#B2B2B2" stroke-width="0.8"/>
<line x1="421.00" y1="535.59" x2="426.20" y2="535.59" stroke="#B2B2B2" stroke-width="0.8"/>
<line x1="421.00" y1="561.61" x2="426.20" y2="561.61" stroke="#B2B2B2" stroke-width="0.8"/>
<line x1="426.95" y1="535.59" x2="426.95" y2="561.61" stroke="#B2B2B2" stroke-width="0.8"/>
<line x1="424.35" y1="535.59" x2="429.55" y2="535.59" stroke="#B2B2B2" stroke-width="0.8"/>
<line x1="424.35" y1="561.61" x2="429.55" y2="561.61" stroke="#B2B2B2" stroke-width="0.8"/>
<line x1="430.30" y1="535.59" x2="430.30" y2="561.61" stroke="#B2B2B2" stroke-width="0.8"/>
<line x1="427.70" y1="535.59" x2="432.90" y2="535.59" stroke="#B2B2B2" stroke-width="0.8"/>
<line x1="427.70" y1="561.61" x2="432.90" y2="561.61" stroke="#B2B2B2" stroke-width="0.8"/>
<line x1="433.65" y1="535.59" x2="433.65" y2="561.61" stroke="#B2B2B2" stroke-width="0.8"/>
<line x1="431.05" y1="535.59" x2="436.25" y2="535.59" stroke="#B2B2B2" stroke-width="0.8"/>
<line x1="431.05" y1="561.61" x2="436.25" y2="561.61" stroke="#B2B2B2" stroke-width="0.8"/>
<line x1="437.00" y1="535.59" x2="437.00" y2="561.61" stroke="#B2B2B2" stroke-width="0.8"/>
<line x1="434.40" y1="535.59" x2="439.60" y2="535.59" stroke="#B2B2B2" stroke-width="0.8"/>
<line x1="434.40" y1="561.61" x2="439.60" y2="561.61" stroke="#B2B2B2" stroke-width="0.8"/>
<line x1="440.35" y1="535.59" x2="440.35" y2="561.61" stroke="#B2B2B2" stroke-width="0.8"/>
<line x1="437.75" y1="535.59" x2="442.95" y2="535.59" stroke="#B2B2B2" stroke-width="0.8"/>
<line x1="437.75" y1="561.61" x2="442.95" y2="561.61" stroke="#B2B2B2" stroke-width="0.8"/>
<line x1="443.70" y1="535.59" x2="443.70" y2="561.61" stroke="#B2B2B2" stroke-width="0.8"/>
<line x1="441.10" y1="535.59" x2="446.30" y2="535.59" stroke="#B2B2B2" stroke-width="0.8"/>
<line x1="441.10" y1="561.61" x2="446.30" y2="561.61" stroke="#B2B2B2" stroke-width="0.8"/>
<line x1="447.05" y1="535.59" x2="447.05" y2="561.61" stroke="#B2B2B2" stroke-width="0.8"/>
<line x1="444.45" y1="535.59" x2="449.65" y2="535.59" stroke="#B2B2B2" stroke-width="0.8"/>
<line x1="444.45" y1="561.61" x2="449.65" y2="561.61" stroke="#B2B2B2" stroke-width="0.8"/>
<line x1="450.40" y1="535.59" x2="450.40" y2="561.61" stroke="#B2B2B2" stroke-width="0.8"/>
<line x1="447.80" y1="535.59" x2="453.00" y2="535.59" stroke="#B2B2B2" stroke-width="0.8"/>
<line x1="447.80" y1="561.61" x2="453.00" y2="561.61" stroke="#B2B2B2" stroke-width="0.8"/>
<line x1="453.75" y1="535.59" x2="453.75" y2="561.61" stroke="#B2B2B2" stroke-width="0.8"/>
<line x1="451.15" y1="535.59" x2="456.35" y2="535.59" stroke="#B2B2B2" stroke-width="0.8"/>
<line x1="451.15" y1="561.61" x2="456.35" y2="561.61" stroke="#B2B2B2" stroke-width="0.8"/>
<line x1="457.10" y1="535.59" x2="457.10" y2="561.61" stroke="#B2B2B2" stroke-width="0.8"/>
<line x1="454.50" y1="535.59" x2="459.70" y2="535.59" stroke="#B2B2B2" stroke-width="0.8"/>
<line x1="454.50" y1="561.61" x2="459.70" y2="561.61" stroke="#B2B2B2" stroke-width="0.8"/>
<line x1="460.45" y1="535.59" x2="460.45" y2="561.61" stroke="#B2B2B2" stroke-width="0.8"/>
<line x1="457.85" y1="535.59" x2="463.05" y2="535.59" stroke="#B2B2B2" stroke-width="0.8"/>
<line x1="457.85" y1="561.61" x2="463.05" y2="561.61" stroke="#B2B2B2" stroke-width="0.8"/>
<line x1="463.80" y1="535.59" x2="463.80" y2="561.61" stroke="#B2B2B2" stroke-width="0.8"/>
<line x1="461.20" y1="535.59" x2="466.40" y2="535.59" stroke="#B2B2B2" stroke-width="0.8"/>
<line x1="461.20" y1="561.61" x2="466.40" y2="561.61" stroke="#B2B2B2" stroke-width="0.8"/>
<line x1="467.15" y1="535.59" x2="467.15" y2="561.61" stroke="#B2B2B2" stroke-width="0.8"/>
<line x1="464.55" y1="535.59" x2="469.75" y2="535.59" stroke="#B2B2B2" stroke-width="0.8"/>
<line x1="464.55" y1="561.61" x2="469.75" y2="561.61" stroke="#B2B2B2" stroke-width="0.8"/>
<line x1="470.50" y1="535.59" x2="470.50" y2="561.61" stroke="#B2B2B2" stroke-width="0.8"/>
<line x1="467.90" y1="535.59" x2="473.10" y2="535.59" stroke="#B2B2B2" stroke-width="0.8"/>
<line x1="467.90" y1="561.61" x2="473.10" y2="561.61" stroke="#B2B2B2" stroke-width="0.8"/>
<line x1="473.85" y1="535.59" x2="473.85" y2="561.61" stroke="#B2B2B2" stroke-width="0.8"/>
<line x1="471.25" y1="535.59" x2="476.45" y2="535.59" stroke="#B2B2B2" stroke-width="0.8"/>
<line x1="471.25" y1="561.61" x2="476.45" y2="561.61" stroke="#B2B2B2" stroke-width="0.8"/>
<line x1="477.20" y1="535.59" x2="477.20" y2="561.61" stroke="#B2B2B2" stroke-width="0.8"/>
<line x1="474.60" y1="535.59" x2="479.80" y2="535.59" stroke="#B2B2B2" stroke-width="0.8"/>
<line x1="474.60" y1="561.61" x2="479.80" y2="561.61" stroke="#B2B2B2" stroke-width="0.8"/>
<line x1="480.55" y1="535.59" x2="480.55" y2="561.61" stroke="#B2B2B2" stroke-width="0.8"/>
<line x1="477.95" y1="535.59" x2="483.15" y2="535.59" stroke="#B2B2B2" stroke-width="0.8"/>
<line x1="477.95" y1="561.61" x2="483.15" y2="561.61" stroke="#B2B2B2" stroke-width="0.8"/>
<line x1="483.90" y1="535.59" x2="483.90" y2="561.61" stroke="#B2B2B2" stroke-width="0.8"/>
<line x1="481.30" y1="535.59" x2="486.50" y2="535.59" stroke="#B2B2B2" stroke-width="0.8"/>
<line x1="481.30" y1="561.61" x2="486.50" y2="561.61" stroke="#B2B2B2" stroke-width="0.8"/>
<line x1="487.25" y1="535.59" x2="487.25" y2="561.61" stroke="#B2B2B2" stroke-width="0.8"/>
<line x1="484.65" y1="535.59" x2="489.85" y2="535.59" stroke="#B2B2B2" stroke-width="0.8"/>
<line x1="484.65" y1="561.61" x2="489.85" y2="561.61" stroke="#B2B2B2" stroke-width="0.8"/>
<line x1="490.60" y1="535.59" x2="490.60" y2="561.61" stroke="#B2B2B2" stroke-width="0.8"/>
<line x1="488.00" y1="535.59" x2="493.20" y2="535.59" stroke="#B2B2B2" stroke-width="0.8"/>
<line x1="488.00" y1="561.61" x2="493.20" y2="561.61" stroke="#B2B2B2" stroke-width="0.8"/>
<line x1="493.95" y1="535.59" x2="493.95" y2="561.61" stroke="#B2B2B2" stroke-width="0.8"/>
<line x1="491.35" y1="535.59" x2="496.55" y2="535.59" stroke="#B2B2B2" stroke-width="0.8"/>
<line x1="491.35" y1="561.61" x2="496.55" y2="561.61" stroke="#B2B2B2" stroke-width="0.8"/>
<line x1="497.30" y1="535.59" x2="497.30" y2="561.61" stroke="#B2B2B2" stroke-width="0.8"/>
<line x1="494.70" y1="535.59" x2="499.90" y2="535.59" stroke="#B2B2B2" stroke-width="0.8"/>
<line x1="494.70" y1="561.61" x2="499.90" y2="561.61" stroke="#B2B2B2" stroke-width="0.8"/>
<line x1="500.65" y1="535.59" x2="500.65" y2="561.61" stroke="#B2B2B2" stroke-width="0.8"/>
<line x1="498.05" y1="535.59" x2="503.25" y2="535.59" stroke="#B2B2B2" stroke-width="0.8"/>
<line x1="498.05" y1="561.61" x2="503.25" y2="561.61" stroke="#B2B2B2" stroke-width="0.8"/>
<line x1="504.00" y1="535.59" x2="504.00" y2="561.61" stroke="#B2B2B2" stroke-width="0.8"/>
<line x1="501.40" y1="535.59" x2="506.60" y2="535.59" stroke="#B2B2B2" stroke-width="0.8"/>
<line x1="501.40" y1="561.61" x2="506.60" y2="561.61" stroke="#B2B2B2" stroke-width="0.8"/>
<line x1="507.35" y1="535.59" x2="507.35" y2="561.61" stroke="#B2B2B2" stroke-width="0.8"/>
<line x1="504.75" y1="535.59" x2="509.95" y2="535.59" stroke="#B2B2B2" stroke-width="0.8"/>
<line x1="504.75" y1="561.61" x2="509.95" y2="561.61" stroke="#B2B2B2" stroke-width="0.8"/>
<line x1="510.70" y1="535.59" x2="510.70" y2="561.61" stroke="#B2B2B2" stroke-width="0.8"/>
<line x1="508.10" y1="535.59" x2="513.30" y2="535.59" stroke="#B2B2B2" stroke-width="0.8"/>
<line x1="508.10" y1="561.61" x2="513.30" y2="561.61" stroke="#B2B2B2" stroke-width="0.8"/>
<line x1="514.05" y1="535.59" x2="514.05" y2="561.61" stroke="#B2B2B2" stroke-width="0.8"/>
<line x1="511.45" y1="535.59" x2="516.65" y2="535.59" stroke="#B2B2B2" stroke-width="0.8"/>
<line x1="511.45" y1="561.61" x2="516.65" y2="561.61" stroke="#B2B2B2" stroke-width="0.8"/>
<line x1="517.40" y1="535.59" x2="517.40" y2="561.61" stroke="#B2B2B2" stroke-width="0.8"/>
<line x1="514.80" y1="535.59" x2="520.00" y2="535.59" stroke="#B2B2B2" stroke-width="0.8"/>
<line x1="514.80" y1="561.61" x2="520.00" y2="561.61" stroke="#B2B2B2" stroke-width="0.8"/>
<line x1="520.75" y1="535.59" x2="520.75" y2="561.61" stroke="#B2B2B2" stroke-width="0.8"/>
<line x1="518.15" y1="535.59" x2="523.35" y2="535.59" stroke="#B2B2B2" stroke-width="0.8"/>
<line x1="518.15" y1="561.61" x2="523.35" y2="561.61" stroke="#B2B2B2" stroke-width="0.8"/>
<line x1="524.10" y1="535.59" x2="524.10" y2="561.61" stroke="#B2B2B2" stroke-width="0.8"/>
<line x1="521.50" y1="535.59" x2="526.70" y2="535.59" stroke="#B2B2B2" stroke-width="0.8"/>
<line x1="521.50" y1="561.61" x2="526.70" y2="561.61" stroke="#B2B2B2" stroke-width="0.8"/>
<line x1="527.45" y1="535.59" x2="527.45" y2="561.61" stroke="#B2B2B2" stroke-width="0.8"/>
<line x1="524.85" y1="535.59" x2="530.05" y2="535.59" stroke="#B2B2B2" stroke-width="0.8"/>
<line x1="524.85" y1="561.61" x2="530.05" y2="561.61" stroke="#B2B2B2" stroke-width="0.8"/>
<line x1="530.80" y1="535.59" x2="530.80" y2="561.61" stroke="#B2B2B2" stroke-width="0.8"/>
<line x1="528.20" y1="535.59" x2="533.40" y2="535.59" stroke="#B2B2B2" stroke-width="0.8"/>
<line x1="528.20" y1="561.61" x2="533.40" y2="561.61" stroke="#B2B2B2" stroke-width="0.8"/>
<line x1="534.15" y1="535.59" x2="534.15" y2="561.61" stroke="#B2B2B2" stroke-width="0.8"/>
<line x1="531.55" y1="535.59" x2="536.75" y2="535.59" stroke="#B2B2B2" stroke-width="0.8"/>
<line x1="531.55" y1="561.61" x2="536.75" y2="561.61" stroke="#B2B2B2" stroke-width="0.8"/>
<line x1="537.50" y1="535.59" x2="537.50" y2="561.61" stroke="#B2B2B2" stroke-width="0.8"/>
<line x1="534.90" y1="535.59" x2="540.10" y2="535.59" stroke="#B2B2B2" stroke-width="0.8"/>
<line x1="534.90" y1="561.61" x2="540.10" y2="561.61" stroke="#B2B2B2" stroke-width="0.8"/>
<line x1="540.85" y1="535.59" x2="540.85" y2="561.61" stroke="#B2B2B2" stroke-width="0.8"/>
<line x1="538.25" y1="535.59" x2="543.45" y2="535.59" stroke="#B2B2B2" stroke-width="0.8"/>
<line x1="538.25" y1="561.61" x2="543.45" y2="561.61" stroke="#B2B2B2" stroke-width="0.8"/>
<line x1="544.20" y1="535.59" x2="544.20" y2="561.61" stroke="#B2B2B2" stroke-width="0.8"/>
<line x1="541.60" y1="535.59" x2="546.80" y2="535.59" stroke="#B2B2B2" stroke-width="0.8"/>
<line x1="541.60" y1="561.61" x2="546.80" y2="561.61" stroke="#B2B2B2" stroke-width="0.8"/>
<line x1="547.55" y1="535.59" x2="547.55" y2="561.61" stroke="#B2B2B2" stroke-width="0.8"/>
<line x1="544.95" y1="535.59" x2="550.15" y2="535.59" stroke="#B2B2B2" stroke-width="0.8"/>
<line x1="544.95" y1="561.61" x2="550.15" y2="561.61" stroke="#B2B2B2" stroke-width="0.8"/>
<line x1="550.90" y1="535.59" x2="550.90" y2="561.61" stroke="#B2B2B2" stroke-width="0.8"/>
<line x1="548.30" y1="535.59" x2="553.50" y2="535.59" stroke="#B2B2B2" stroke-width="0.8"/>
<line x1="548.30" y1="561.61" x2="553.50" y2="561.61" stroke="#B2B2B2" stroke-width="0.8"/>
<line x1="554.25" y1="535.59" x2="554.25" y2="561.61" stroke="#B2B2B2" stroke-width="0.8"/>
<line x1="551.65" y1="535.59" x2="556.85" y2="535.59" stroke="#B2B2B2" stroke-width="0.8"/>
<line x1="551.65" y1="561.61" x2="556.85" y2="561.61" stroke="#B2B2B2" stroke-width="0.8"/>
<line x1="557.60" y1="535.59" x2="557.60" y2="561.61" stroke="#B2B2B2" stroke-width="0.8"/>
<line x1="555.00" y1="535.59" x2="560.20" y2="535.59" stroke="#B2B2B2" stroke-width="0.8"/>
<line x1="555.00" y1="561.61" x2="560.20" y2="561.61" stroke="#B2B2B2" stroke-width="0.8"/>
<line x1="560.95" y1="535.59" x2="560.95" y2="561.61" stroke="#B2B2B2" stroke-width="0.8"/>
<line x1="558.35" y1="535.59" x2="563.55" y2="535.59" stroke="#B2B2B2" stroke-width="0.8"/>
<line x1="558.35" y1="561.61" x2="563.55" y2="561.61" stroke="#B2B2B2" stroke-width="0.8"/>
<line x1="564.30" y1="535.59" x2="564.30" y2="561.61" stroke="#B2B2B2" stroke-width="0.8"/>
<line x1="561.70" y1="535.59" x2="566.90" y2="535.59" stroke="#B2B2B2" stroke-width="0.8"/>
<line x1="561.70" y1="561.61" x2="566.90" y2="561.61" stroke="#B2B2B2" stroke-width="0.8"/>
<line x1="567.65" y1="535.59" x2="567.65" y2="561.61" stroke="#B2B2B2" stroke-width="0.8"/>
<line x1="565.05" y1="535.59" x2="570.25" y2="535.59" stroke="#B2B2B2" stroke-width="0.8"/>
<line x1="565.05" y1="561.61" x2="570.25" y2="561.61" stroke="#B2B2B2" stroke-width="0.8"/>
<line x1="571.00" y1="535.59" x2="571.00" y2="561.61" stroke="#B2B2B2" stroke-width="0.8"/>
<line x1="568.40" y1="535.59" x2="573.60" y2="535.59" stroke="#B2B2B2" stroke-width="0.8"/>
<line x1="568.40" y1="561.61" x2="573.60" y2="561.61" stroke="#B2B2B2" stroke-width="0.8"/>
<line x1="574.35" y1="535.59" x2="574.35" y2="561.61" stroke="#B2B2B2" stroke-width="0.8"/>
<line x1="571.75" y1="535.59" x2="576.95" y2="535.59" stroke="#B2B2B2" stroke-width="0.8"/>
<line x1="571.75" y1="561.61" x2="576.95" y2="561.61" stroke="#B2B2B2" stroke-width="0.8"/>
<line x1="577.70" y1="535.59" x2="577.70" y2="561.61" stroke="#B2B2B2" stroke-width="0.8"/>
<line x1="575.10" y1="535.59" x2="580.30" y2="535.59" stroke="#B2B2B2" stroke-width="0.8"/>
<line x1="575.10" y1="561.61" x2="580.30" y2="561.61" stroke="#B2B2B2" stroke-width="0.8"/>
<line x1="581.05" y1="535.59" x2="581.05" y2="561.61" stroke="#B2B2B2" stroke-width="0.8"/>
<line x1="578.45" y1="535.59" x2="583.65" y2="535.59" stroke="#B2B2B2" stroke-width="0.8"/>
<line x1="578.45" y1="561.61" x2="583.65" y2="561.61" stroke="#B2B2B2" stroke-width="0.8"/>
<line x1="584.40" y1="535.59" x2="584.40" y2="561.61" stroke="#B2B2B2" stroke-width="0.8"/>
<line x1="581.80" y1="535.59" x2="587.00" y2="535.59" stroke="#B2B2B2" stroke-width="0.8"/>
<line x1="581.80" y1="561.61" x2="587.00" y2="561.61" stroke="#B2B2B2" stroke-width="0.8"/>
<line x1="587.75" y1="535.59" x2="587.75" y2="561.61" stroke="#B2B2B2" stroke-width="0.8"/>
<line x1="585.15" y1="535.59" x2="590.35" y2="535.59" stroke="#B2B2B2" stroke-width="0.8"/>
<line x1="585.15" y1="561.61" x2="590.35" y2="561.61" stroke="#B2B2B2" stroke-width="0.8"/>
<line x1="591.10" y1="535.59" x2="591.10" y2="561.61" stroke="#B2B2B2" stroke-width="0.8"/>
<line x1="588.50" y1="535.59" x2="593.70" y2="535.59" stroke="#B2B2B2" stroke-width="0.8"/>
<line x1="588.50" y1="561.61" x2="593.70" y2="561.61" stroke="#B2B2B2" stroke-width="0.8"/>
<line x1="594.45" y1="535.59" x2="594.45" y2="561.61" stroke="#B2B2B2" stroke-width="0.8"/>
<line x1="591.85" y1="535.59" x2="597.05" y2="535.59" stroke="#B2B2B2" stroke-width="0.8"/>
<line x1="591.85" y1="561.61" x2="597.05" y2="561.61" stroke="#B2B2B2" stroke-width="0.8"/>
<line x1="597.80" y1="535.59" x2="597.80" y2="561.61" stroke="#B2B2B2" stroke-width="0.8"/>
<line x1="595.20" y1="535.59" x2="600.40" y2="535.59" stroke="#B2B2B2" stroke-width="0.8"/>
<line x1="595.20" y1="561.61" x2="600.40" y2="561.61" stroke="#B2B2B2" stroke-width="0.8"/>
<line x1="601.15" y1="535.59" x2="601.15" y2="561.61" stroke="#B2B2B2" stroke-width="0.8"/>
<line x1="598.55" y1="535.59" x2="603.75" y2="535.59" stroke="#B2B2B2" stroke-width="0.8"/>
<line x1="598.55" y1="561.61" x2="603.75" y2="561.61" stroke="#B2B2B2" stroke-width="0.8"/>
<line x1="604.50" y1="535.59" x2="604.50" y2="561.61" stroke="#B2B2B2" stroke-width="0.8"/>
<line x1="601.90" y1="535.59" x2="607.10" y2="535.59" stroke="#B2B2B2" stroke-width="0.8"/>
<line x1="601.90" y1="561.61" x2="607.10" y2="561.61" stroke="#B2B2B2" stroke-width="0.8"/>
<line x1="607.85" y1="535.59" x2="607.85" y2="561.61" stroke="#B2B2B2" stroke-width="0.8"/>
<line x1="605.25" y1="535.59" x2="610.45" y2="535.59" stroke="#B2B2B2" stroke-width="0.8"/>
<line x1="605.25" y1="561.61" x2="610.45" y2="561.61" stroke="#B2B2B2" stroke-width="0.8"/>
<line x1="611.20" y1="535.59" x2="611.20" y2="561.61" stroke="#B2B2B2" stroke-width="0.8"/>
<line x1="608.60" y1="535.59" x2="613.80" y2="535.59" stroke="#B2B2B2" stroke-width="0.8"/>
<line x1="608.60" y1="561.61" x2="613.80" y2="561.61" stroke="#B2B2B2" stroke-width="0.8"/>
<line x1="614.55" y1="535.59" x2="614.55" y2="561.61" stroke="#B2B2B2" stroke-width="0.8"/>
<line x1="611.95" y1="535.59" x2="617.15" y2="535.59" stroke="#B2B2B2" stroke-width="0.8"/>
<line x1="611.95" y1="561.61" x2="617.15" y2="561.61" stroke="#B2B2B2" stroke-width="0.8"/>
<line x1="617.90" y1="535.59" x2="617.90" y2="561.61" stroke="#B2B2B2" stroke-width="0.8"/>
<line x1="615.30" y1="535.59" x2="620.50" y2="535.59" stroke="#B2B2B2" stroke-width="0.8"/>
<line x1="615.30" y1="561.61" x2="620.50" y2="561.61" stroke="#B2B2B2" stroke-width="0.8"/>
<line x1="621.25" y1="535.59" x2="621.25" y2="561.61" stroke="#B2B2B2" stroke-width="0.8"/>
<line x1="618.65" y1="535.59" x2="623.85" y2="535.59" stroke="#B2B2B2" stroke-width="0.8"/>
<line x1="618.65" y1="561.61" x2="623.85" y2="561.61" stroke="#B2B2B2" stroke-width="0.8"/>
<line x1="624.60" y1="535.59" x2="624.60" y2="561.61" stroke="#B2B2B2" stroke-width="0.8"/>
<line x1="622.00" y1="535.59" x2="627.20" y2="535.59" stroke="#B2B2B2" stroke-width="0.8"/>
<line x1="622.00" y1="561.61" x2="627.20" y2="561.61" stroke="#B2B2B2" stroke-width="0.8"/>
<line x1="627.95" y1="535.59" x2="627.95" y2="561.61" stroke="#B2B2B2" stroke-width="0.8"/>
<line x1="625.35" y1="535.59" x2="630.55" y2="535.59" stroke="#B2B2B2" stroke-width="0.8"/>
<line x1="625.35" y1="561.61" x2="630.55" y2="561.61" stroke="#B2B2B2" stroke-width="0.8"/>
<line x1="631.30" y1="535.59" x2="631.30" y2="561.61" stroke="#B2B2B2" stroke-width="0.8"/>
<line x1="628.70" y1="535.59" x2="633.90" y2="535.59" stroke="#B2B2B2" stroke-width="0.8"/>
<line x1="628.70" y1="561.61" x2="633.90" y2="561.61" stroke="#B2B2B2" stroke-width="0.8"/>
<line x1="634.65" y1="535.59" x2="634.65" y2="561.61" stroke="#B2B2B2" stroke-width="0.8"/>
<line x1="632.05" y1="535.59" x2="637.25" y2="535.59" stroke="#B2B2B2" stroke-width="0.8"/>
<line x1="632.05" y1="561.61" x2="637.25" y2="561.61" stroke="#B2B2B2" stroke-width="0.8"/>
<line x1="638.00" y1="535.59" x2="638.00" y2="561.61" stroke="#B2B2B2" stroke-width="0.8"/>
<line x1="635.40" y1="535.59" x2="640.60" y2="535.59" stroke="#B2B2B2" stroke-width="0.8"/>
<line x1="635.40" y1="561.61" x2="640.60" y2="561.61" stroke="#B2B2B2" stroke-width="0.8"/>
<line x1="641.35" y1="523.97" x2="641.35" y2="554.47" stroke="#B2B2B2" stroke-width="0.8"/>
<line x1="638.75" y1="523.97" x2="643.95" y2="523.97" stroke="#B2B2B2" stroke-width="0.8"/>
<line x1="638.75" y1="554.47" x2="643.95" y2="554.47" stroke="#B2B2B2" stroke-width="0.8"/>
<line x1="644.70" y1="523.97" x2="644.70" y2="554.47" stroke="#B2B2B2" stroke-width="0.8"/>
<line x1="642.10" y1="523.97" x2="647.30" y2="523.97" stroke="#B2B2B2" stroke-width="0.8"/>
<line x1="642.10" y1="554.47" x2="647.30" y2="554.47" stroke="#B2B2B2" stroke-width="0.8"/>
<line x1="648.05" y1="523.97" x2="648.05" y2="554.47" stroke="#B2B2B2" stroke-width="0.8"/>
<line x1="645.45" y1="523.97" x2="650.65" y2="523.97" stroke="#B2B2B2" stroke-width="0.8"/>
<line x1="645.45" y1="554.47" x2="650.65" y2="554.47" stroke="#B2B2B2" stroke-width="0.8"/>
<line x1="651.40" y1="523.97" x2="651.40" y2="554.47" stroke="#B2B2B2" stroke-width="0.8"/>
<line x1="648.80" y1="523.97" x2="654.00" y2="523.97" stroke="#B2B2B2" stroke-width="0.8"/>
<line x1="648.80" y1="554.47" x2="654.00" y2="554.47" stroke="#B2B2B2" stroke-width="0.8"/>
<line x1="654.75" y1="512.35" x2="654.75" y2="547.00" stroke="#B2B2B2" stroke-width="0.8"/>
<line x1="652.15" y1="512.35" x2="657.35" y2="512.35" stroke="#B2B2B2" stroke-width="0.8"/>
<line x1="652.15" y1="547.00" x2="657.35" y2="547.00" stroke="#B2B2B2" stroke-width="0.8"/>
<line x1="658.10" y1="512.35" x2="658.10" y2="547.00" stroke="#B2B2B2" stroke-width="0.8"/>
<line x1="655.50" y1="512.35" x2="660.70" y2="512.35" stroke="#B2B2B2" stroke-width="0.8"/>
<line x1="655.50" y1="547.00" x2="660.70" y2="547.00" stroke="#B2B2B2" stroke-width="0.8"/>
<line x1="661.45" y1="512.35" x2="661.45" y2="547.00" stroke="#B2B2B2" stroke-width="0.8"/>
<line x1="658.85" y1="512.35" x2="664.05" y2="512.35" stroke="#B2B2B2" stroke-width="0.8"/>
<line x1="658.85" y1="547.00" x2="664.05" y2="547.00" stroke="#B2B2B2" stroke-width="0.8"/>
<line x1="664.80" y1="523.97" x2="664.80" y2="554.47" stroke="#B2B2B2" stroke-width="0.8"/>
<line x1="662.20" y1="523.97" x2="667.40" y2="523.97" stroke="#B2B2B2" stroke-width="0.8"/>
<line x1="662.20" y1="554.47" x2="667.40" y2="554.47" stroke="#B2B2B2" stroke-width="0.8"/>
<line x1="668.15" y1="460.47" x2="668.15" y2="505.50" stroke="#B2B2B2" stroke-width="0.8"/>
<line x1="665.55" y1="460.47" x2="670.75" y2="460.47" stroke="#B2B2B2" stroke-width="0.8"/>
<line x1="665.55" y1="505.50" x2="670.75" y2="505.50" stroke="#B2B2B2" stroke-width="0.8"/>
<line x1="671.50" y1="441.38" x2="671.50" y2="486.82" stroke="#B2B2B2" stroke-width="0.8"/>
<line x1="668.90" y1="441.38" x2="674.10" y2="441.38" stroke="#B2B2B2" stroke-width="0.8"/>
<line x1="668.90" y1="486.82" x2="674.10" y2="486.82" stroke="#B2B2B2" stroke-width="0.8"/>
<line x1="638.00" y1="436.80" x2="638.00" y2="566.40" stroke="#AAAAAA" stroke-width="0.7" stroke-dasharray="1,1.5"/>
<line x1="664.80" y1="436.80" x2="664.80" y2="566.40" stroke="#AAAAAA" stroke-width="0.7" stroke-dasharray="1,1.5"/>
<circle cx="410.20" cy="548.89" r="1.45" fill="#F00"/>
<circle cx="413.55" cy="548.89" r="1.45" fill="#F00"/>
<circle cx="416.90" cy="548.89" r="1.45" fill="#F00"/>
<circle cx="420.25" cy="548.89" r="1.45" fill="#F00"/>
<circle cx="423.60" cy="548.89" r="1.45" fill="#F00"/>
<circle cx="426.95" cy="548.89" r="1.45" fill="#F00"/>
<circle cx="430.30" cy="548.89" r="1.45" fill="#F00"/>
<circle cx="433.65" cy="548.89" r="1.45" fill="#F00"/>
<circle cx="437.00" cy="548.89" r="1.45" fill="#F00"/>
<circle cx="440.35" cy="548.89" r="1.45" fill="#F00"/>
<circle cx="443.70" cy="548.89" r="1.45" fill="#F00"/>
<circle cx="447.05" cy="548.89" r="1.45" fill="#F00"/>
<circle cx="450.40" cy="548.89" r="1.45" fill="#F00"/>
<circle cx="453.75" cy="548.89" r="1.45" fill="#F00"/>
<circle cx="457.10" cy="548.89" r="1.45" fill="#F00"/>
<circle cx="460.45" cy="548.89" r="1.45" fill="#F00"/>
<circle cx="463.80" cy="548.89" r="1.45" fill="#F00"/>
<circle cx="467.15" cy="548.89" r="1.45" fill="#F00"/>
<circle cx="470.50" cy="548.89" r="1.45" fill="#F00"/>
<circle cx="473.85" cy="548.89" r="1.45" fill="#F00"/>
<circle cx="477.20" cy="548.89" r="1.45" fill="#F00"/>
<circle cx="480.55" cy="548.89" r="1.45" fill="#F00"/>
<circle cx="483.90" cy="548.89" r="1.45" fill="#F00"/>
<circle cx="487.25" cy="548.89" r="1.45" fill="#F00"/>
<circle cx="490.60" cy="548.89" r="1.45" fill="#F00"/>
<circle cx="493.95" cy="548.89" r="1.45" fill="#F00"/>
<circle cx="497.30" cy="548.89" r="1.45" fill="#F00"/>
<circle cx="500.65" cy="548.89" r="1.45" fill="#F00"/>
<circle cx="504.00" cy="548.89" r="1.45" fill="#F00"/>
<circle cx="507.35" cy="548.89" r="1.45" fill="#F00"/>
<circle cx="510.70" cy="548.89" r="1.45" fill="#F00"/>
<circle cx="514.05" cy="548.89" r="1.45" fill="#F00"/>
<circle cx="517.40" cy="548.89" r="1.45" fill="#F00"/>
<circle cx="520.75" cy="548.89" r="1.45" fill="#F00"/>
<circle cx="524.10" cy="548.89" r="1.45" fill="#F00"/>
<circle cx="527.45" cy="548.89" r="1.45" fill="#F00"/>
<circle cx="530.80" cy="548.89" r="1.45" fill="#F00"/>
<circle cx="534.15" cy="548.89" r="1.45" fill="#F00"/>
<circle cx="537.50" cy="548.89" r="1.45" fill="#F00"/>
<circle cx="540.85" cy="548.89" r="1.45" fill="#F00"/>
<circle cx="544.20" cy="548.89" r="1.45" fill="#F00"/>
<circle cx="547.55" cy="548.89" r="1.45" fill="#F00"/>
<circle cx="550.90" cy="548.89" r="1.45" fill="#F00"/>
<circle cx="554.25" cy="548.89" r="1.45" fill="#F00"/>
<circle cx="557.60" cy="548.89" r="1.45" fill="#F00"/>
<circle cx="560.95" cy="548.89" r="1.45" fill="#F00"/>
<circle cx="564.30" cy="548.89" r="1.45" fill="#F00"/>
<circle cx="567.65" cy="548.89" r="1.45" fill="#F00"/>
<circle cx="571.00" cy="548.89" r="1.45" fill="#F00"/>
<circle cx="574.35" cy="548.89" r="1.45" fill="#F00"/>
<circle cx="577.70" cy="548.89" r="1.45" fill="#F00"/>
<circle cx="581.05" cy="548.89" r="1.45" fill="#F00"/>
<circle cx="584.40" cy="548.89" r="1.45" fill="#F00"/>
<circle cx="587.75" cy="548.89" r="1.45" fill="#F00"/>
<circle cx="591.10" cy="548.89" r="1.45" fill="#F00"/>
<circle cx="594.45" cy="548.89" r="1.45" fill="#F00"/>
<circle cx="597.80" cy="548.89" r="1.45" fill="#F00"/>
<circle cx="601.15" cy="548.89" r="1.45" fill="#F00"/>
<circle cx="604.50" cy="548.89" r="1.45" fill="#F00"/>
<circle cx="607.85" cy="548.89" r="1.45" fill="#F00"/>
<circle cx="611.20" cy="548.89" r="1.45" fill="#F00"/>
<circle cx="614.55" cy="548.89" r="1.45" fill="#F00"/>
<circle cx="617.90" cy="548.89" r="1.45" fill="#F00"/>
<circle cx="621.25" cy="548.89" r="1.45" fill="#F00"/>
<circle cx="624.60" cy="548.89" r="1.45" fill="#F00"/>
<circle cx="627.95" cy="548.89" r="1.45" fill="#F00"/>
<circle cx="631.30" cy="548.89" r="1.45" fill="#F00"/>
<circle cx="634.65" cy="548.89" r="1.45" fill="#F00"/>
<circle cx="638.00" cy="548.89" r="1.45" fill="#F00"/>
<circle cx="641.35" cy="539.45" r="1.45" fill="#F00"/>
<circle cx="644.70" cy="539.45" r="1.45" fill="#F00"/>
<circle cx="648.05" cy="539.45" r="1.45" fill="#F00"/>
<circle cx="651.40" cy="539.45" r="1.45" fill="#F00"/>
<circle cx="654.75" cy="530.02" r="1.45" fill="#F00"/>
<circle cx="658.10" cy="530.02" r="1.45" fill="#F00"/>
<circle cx="661.45" cy="530.02" r="1.45" fill="#F00"/>
<circle cx="664.80" cy="539.45" r="1.45" fill="#F00"/>
<circle cx="668.15" cy="482.86" r="1.45" fill="#F00"/>
<circle cx="671.50" cy="464.00" r="1.45" fill="#F00"/>
<text x="410.70" y="426.60" font-size="7.333" text-anchor="middle" fill="#000" color="#000" transform="translate(410.70 426.60) scale(0.9 1) translate(-410.70 -426.60)">5</text>
<text x="420.75" y="426.60" font-size="7.333" text-anchor="middle" fill="#000" color="#000" transform="translate(420.75 426.60) scale(0.9 1) translate(-420.75 -426.60)">5</text>
<text x="430.80" y="426.60" font-size="7.333" text-anchor="middle" fill="#000" color="#000" transform="translate(430.80 426.60) scale(0.9 1) translate(-430.80 -426.60)">5</text>
<text x="440.85" y="426.60" font-size="7.333" text-anchor="middle" fill="#000" color="#000" transform="translate(440.85 426.60) scale(0.9 1) translate(-440.85 -426.60)">5</text>
<text x="450.90" y="426.60" font-size="7.333" text-anchor="middle" fill="#000" color="#000" transform="translate(450.90 426.60) scale(0.9 1) translate(-450.90 -426.60)">5</text>
<text x="460.95" y="426.60" font-size="7.333" text-anchor="middle" fill="#000" color="#000" transform="translate(460.95 426.60) scale(0.9 1) translate(-460.95 -426.60)">5</text>
<text x="471.00" y="426.60" font-size="7.333" text-anchor="middle" fill="#000" color="#000" transform="translate(471.00 426.60) scale(0.9 1) translate(-471.00 -426.60)">5</text>
<text x="481.05" y="426.60" font-size="7.333" text-anchor="middle" fill="#000" color="#000" transform="translate(481.05 426.60) scale(0.9 1) translate(-481.05 -426.60)">5</text>
<text x="491.10" y="426.60" font-size="7.333" text-anchor="middle" fill="#000" color="#000" transform="translate(491.10 426.60) scale(0.9 1) translate(-491.10 -426.60)">5</text>
<text x="501.15" y="426.60" font-size="7.333" text-anchor="middle" fill="#000" color="#000" transform="translate(501.15 426.60) scale(0.9 1) translate(-501.15 -426.60)">5</text>
<text x="511.20" y="426.60" font-size="7.333" text-anchor="middle" fill="#000" color="#000" transform="translate(511.20 426.60) scale(0.9 1) translate(-511.20 -426.60)">5</text>
<text x="521.25" y="426.60" font-size="7.333" text-anchor="middle" fill="#000" color="#000" transform="translate(521.25 426.60) scale(0.9 1) translate(-521.25 -426.60)">5</text>
<text x="531.30" y="426.60" font-size="7.333" text-anchor="middle" fill="#000" color="#000" transform="translate(531.30 426.60) scale(0.9 1) translate(-531.30 -426.60)">5</text>
<text x="541.35" y="426.60" font-size="7.333" text-anchor="middle" fill="#000" color="#000" transform="translate(541.35 426.60) scale(0.9 1) translate(-541.35 -426.60)">5</text>
<text x="551.40" y="426.60" font-size="7.333" text-anchor="middle" fill="#000" color="#000" transform="translate(551.40 426.60) scale(0.9 1) translate(-551.40 -426.60)">5</text>
<text x="561.45" y="426.60" font-size="7.333" text-anchor="middle" fill="#000" color="#000" transform="translate(561.45 426.60) scale(0.9 1) translate(-561.45 -426.60)">5</text>
<text x="571.50" y="426.60" font-size="7.333" text-anchor="middle" fill="#000" color="#000" transform="translate(571.50 426.60) scale(0.9 1) translate(-571.50 -426.60)">4</text>
<text x="581.55" y="426.60" font-size="7.333" text-anchor="middle" fill="#000" color="#000" transform="translate(581.55 426.60) scale(0.9 1) translate(-581.55 -426.60)">4</text>
<text x="591.60" y="426.60" font-size="7.333" text-anchor="middle" fill="#000" color="#000" transform="translate(591.60 426.60) scale(0.9 1) translate(-591.60 -426.60)">4</text>
<text x="601.65" y="426.60" font-size="7.333" text-anchor="middle" fill="#000" color="#000" transform="translate(601.65 426.60) scale(0.9 1) translate(-601.65 -426.60)">3</text>
<text x="611.70" y="426.60" font-size="7.333" text-anchor="middle" fill="#000" color="#000" transform="translate(611.70 426.60) scale(0.9 1) translate(-611.70 -426.60)">2</text>
<text x="621.75" y="426.60" font-size="7.333" text-anchor="middle" fill="#000" color="#000" transform="translate(621.75 426.60) scale(0.9 1) translate(-621.75 -426.60)">2</text>
<text x="631.80" y="426.60" font-size="7.333" text-anchor="middle" fill="#000" color="#000" transform="translate(631.80 426.60) scale(0.9 1) translate(-631.80 -426.60)">2</text>
<text x="641.85" y="426.60" font-size="7.333" text-anchor="middle" fill="#000" color="#000" transform="translate(641.85 426.60) scale(0.9 1) translate(-641.85 -426.60)">2</text>
<text x="651.90" y="426.60" font-size="7.333" text-anchor="middle" fill="#000" color="#000" transform="translate(651.90 426.60) scale(0.9 1) translate(-651.90 -426.60)">2</text>
<text x="661.95" y="426.60" font-size="7.333" text-anchor="middle" fill="#000" color="#000" transform="translate(661.95 426.60) scale(0.9 1) translate(-661.95 -426.60)">2</text>
<text x="672.00" y="426.60" font-size="7.333" text-anchor="middle" fill="#000" color="#000" transform="translate(672.00 426.60) scale(0.9 1) translate(-672.00 -426.60)">0</text>
</g>
</svg>
</body></html>
